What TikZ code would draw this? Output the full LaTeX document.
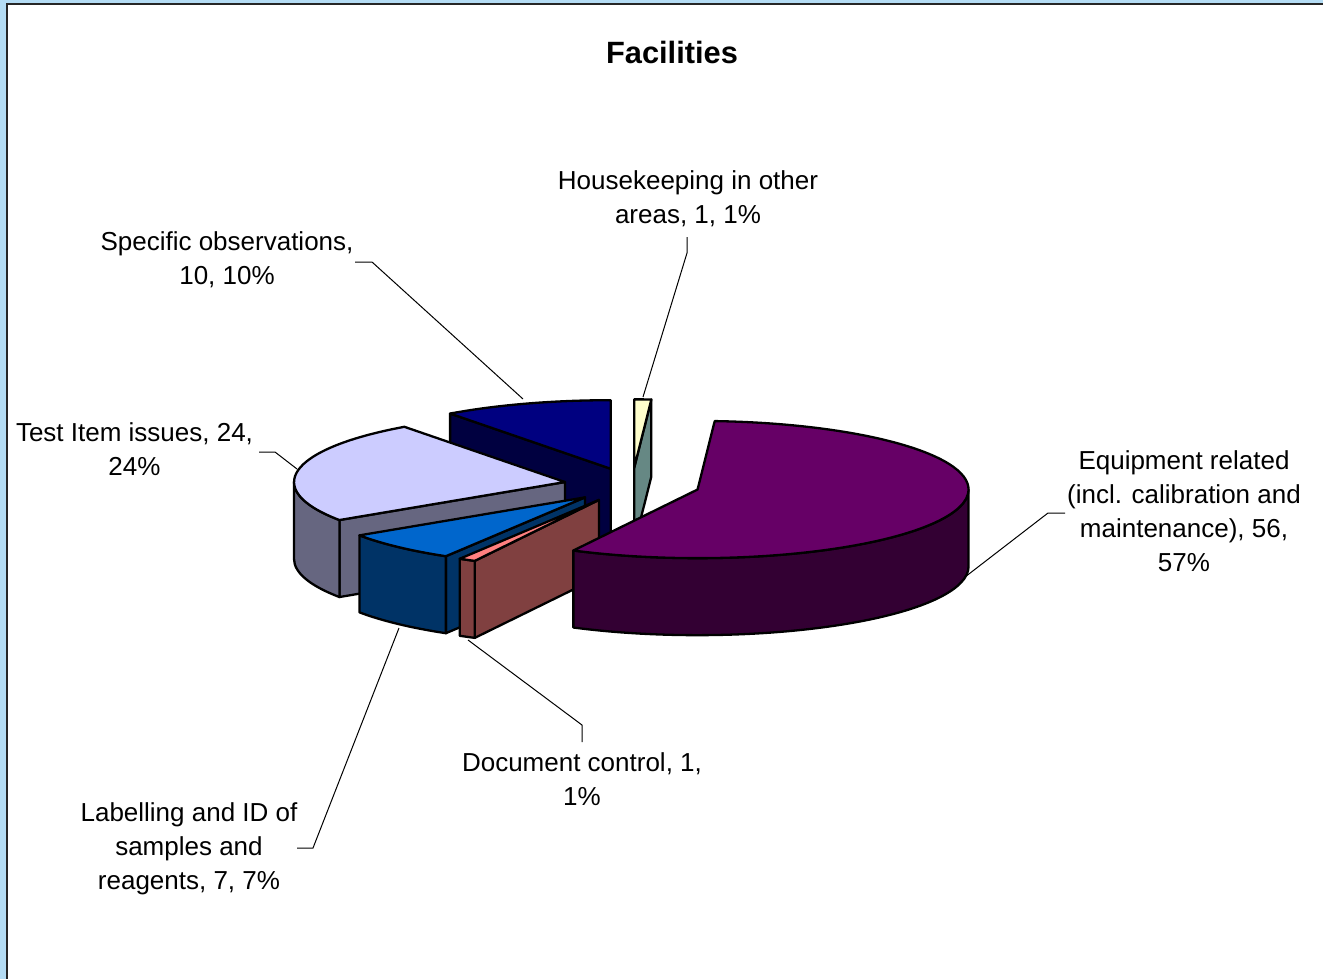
\documentclass[tikz,border=0pt]{standalone}
\usepackage{fontspec}
\setmainfont{Liberation Sans}
\usetikzlibrary{calc}
\definecolor{bgblue}{HTML}{B4DCF4}
\definecolor{hktop}{HTML}{FFFFCC}
\definecolor{hkside}{HTML}{668884}
\definecolor{sptop}{HTML}{000080}
\definecolor{spside}{HTML}{000040}
\definecolor{titop}{HTML}{CCCCFF}
\definecolor{tiside}{HTML}{666680}
\definecolor{lbtop}{HTML}{0066CC}
\definecolor{lbside}{HTML}{003366}
\definecolor{dctop}{HTML}{FF8080}
\definecolor{dcside}{HTML}{804040}
\definecolor{eqtop}{HTML}{660066}
\definecolor{eqside}{HTML}{330033}
\newcommand\apex[2]{\coordinate (#1) at ($(C)+({34pt*sin(#2)},{8.53pt*cos(#2)})$);}
\newcommand\rimpt[3]{\coordinate (#1) at ($(#2)+({135.5pt*sin(#3)},{34.3pt*cos(#3)})$);}
\tikzset{
  rr/.style={x radius=135.5pt, y radius=34.3pt},
  face/.style={draw=black, line width=1.15pt, line join=round},
  leader/.style={draw=black, line width=0.5pt},
  lbl/.style={font=\fontsize{13}{17}\selectfont, align=center, inner sep=0pt},
}
\begin{document}
\begin{tikzpicture}[x=0.5pt,y=-0.5pt]
\useasboundingbox (0,0) rectangle (1323,979);
\clip (0,0) rectangle (1323,979);
\fill[bgblue] (0,0) rectangle (1323,979);
\draw[fill=white, line width=1.2pt, draw=black!85] (7,4) rectangle (1340,1000);

\node[font=\bfseries\fontsize{15.4}{18}\selectfont] (title) at (672,52) {Facilities};

% pie centre
\coordinate (C) at (632,485);
% ---------- Specific observations
\apex{SP}{341.818}\rimpt{SPa}{SP}{323.636}
\draw[face, fill=spside] (SP) -- (SPa) -- ++(0,77) -- ($(SP)+(0,77)$) -- cycle;
\draw[face, fill=sptop] (SP) -- (SPa) arc[start angle=-233.636, end angle=-270, rr] -- cycle;
% ---------- Housekeeping
\apex{HK}{1.818}\rimpt{HKa}{HK}{0}\rimpt{HKb}{HK}{3.636}
\draw[face, fill=hkside] (HK) -- (HKb) -- ++(0,77) -- ($(HK)+(0,77)$) -- cycle;
\draw[face, fill=hktop] (HK) -- (HKa) arc[start angle=90, end angle=86.364, rr] -- cycle;
% ---------- Test Item issues
\apex{TI}{280}\rimpt{TIa}{TI}{236.364}
\draw[face, fill=tiside] (TI) -- (TIa) -- ++(0,77) -- ($(TI)+(0,77)$) -- cycle;
\draw[face, fill=tiside] (TIa) arc[start angle=-146.364, end angle=-180, rr] -- ++(0,77) arc[start angle=-180, end angle=-146.364, rr] -- cycle;
\draw[face, fill=titop] (TI) -- (TIa) arc[start angle=-146.364, end angle=-233.636, rr] -- cycle;
% ---------- Labelling
\apex{LB}{223.636}\rimpt{LBa}{LB}{210.909}
\draw[face, fill=lbside] (LB) -- (LBa) -- ++(0,77) -- ($(LB)+(0,77)$) -- cycle;
\draw[face, fill=lbside] (LBa) arc[start angle=-120.909, end angle=-146.364, rr] -- ++(0,77) arc[start angle=-146.364, end angle=-120.909, rr] -- cycle;
\draw[face, fill=lbtop] (LB) -- (LBa) arc[start angle=-120.909, end angle=-146.364, rr] -- cycle;
% ---------- Document control
\apex{DC}{209.091}\rimpt{DCa}{DC}{207.273}
\draw[face, fill=dcside] (DC) -- (DCa) -- ++(0,77) -- ($(DC)+(0,77)$) -- cycle;
\draw[face, fill=dcside] (DCa) arc[start angle=-117.273, end angle=-120.909, rr] -- ++(0,77) arc[start angle=-120.909, end angle=-117.273, rr] -- cycle;
\draw[face, fill=dctop] (DC) -- (DCa) arc[start angle=-117.273, end angle=-120.909, rr] -- cycle;
% ---------- Equipment related
\apex{EQ}{105.455}\rimpt{EQa}{EQ}{3.636}\rimpt{EQr}{EQ}{90}
\draw[face, fill=eqside] (EQr) arc[start angle=0, end angle=-117.273, rr] -- ++(0,77) arc[start angle=-117.273, end angle=0, rr] -- cycle;
\draw[face, fill=eqtop] (EQ) -- (EQa) arc[start angle=86.364, end angle=-117.273, rr] -- cycle;

% ---------- labels
\node[lbl] (lHK) at (688,199) {Housekeeping in other\\areas, 1, 1\%};
\node[lbl] (lSP) at (227,260) {Specific observations,\\10, 10\%};
\node[lbl] (lTI) at (134.5,449) {Test Item issues, 24,\\24\%};
\node[lbl] (lEQ) at (1184,511) {Equipment related\\(incl. calibration and\\maintenance), 56,\\57\%};
\node[lbl] (lDC) at (582,779) {Document control, 1,\\1\%};
\node[lbl] (lLB) at (189,849) {Labelling and ID of\\samples and\\reagents, 7, 7\%};

% ---------- leader lines
\coordinate (kSP0) at (355,262); \coordinate (kSP1) at (372,262); \coordinate (kSP2) at (523,399);
\coordinate (kTI0) at (259,452); \coordinate (kTI1) at (275,452); \coordinate (kTI2) at (297,469);
\coordinate (kHK0) at (687,237); \coordinate (kHK1) at (687,253); \coordinate (kHK2) at (643,397);
\coordinate (kEQ0) at (1065,513); \coordinate (kEQ1) at (1048,513); \coordinate (kEQ2) at (965,577);
\coordinate (kDC0) at (582,742); \coordinate (kDC1) at (582,725); \coordinate (kDC2) at (468,640);
\coordinate (kLB0) at (297,848); \coordinate (kLB1) at (313,848); \coordinate (kLB2) at (399,628);
\draw[leader] (kSP0) -- (kSP1) -- (kSP2);
\draw[leader] (kTI0) -- (kTI1) -- (kTI2);
\draw[leader] (kHK0) -- (kHK1) -- (kHK2);
\draw[leader] (kEQ0) -- (kEQ1) -- (kEQ2);
\draw[leader] (kDC0) -- (kDC1) -- (kDC2);
\draw[leader] (kLB0) -- (kLB1) -- (kLB2);
\end{tikzpicture}
\end{document}
